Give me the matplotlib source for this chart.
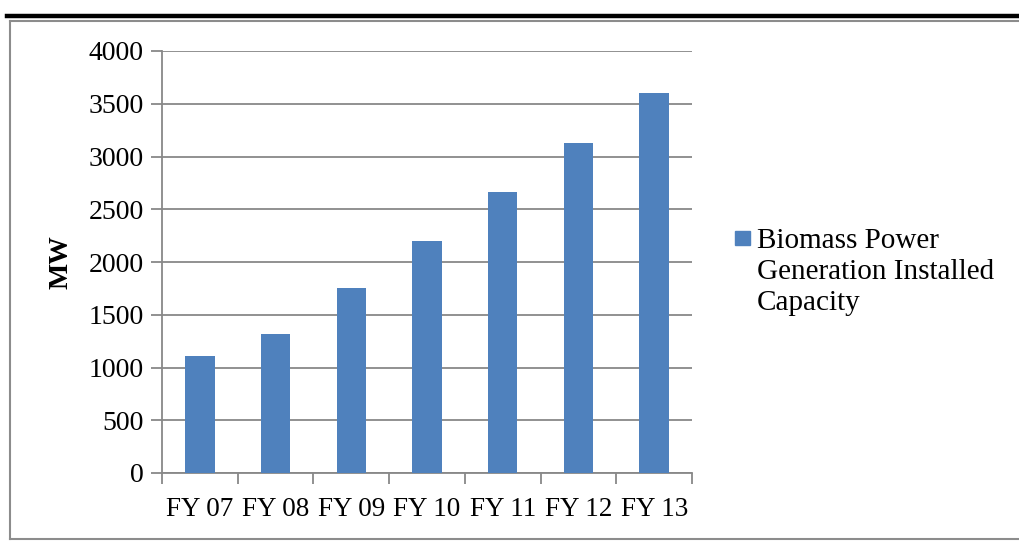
import matplotlib.pyplot as plt
from matplotlib.lines import Line2D
from matplotlib.patches import Rectangle

years = ['FY 07', 'FY 08', 'FY 09', 'FY 10', 'FY 11', 'FY 12', 'FY 13']
capacity = [1110, 1320, 1750, 2200, 2665, 3130, 3601]
yticks = [0, 500, 1000, 1500, 2000, 2500, 3000, 3500, 4000]
series_name = ['Biomass Power', 'Generation Installed', 'Capacity']

plt.rcParams['font.family'] = ['Liberation Serif', 'DejaVu Serif']
BLUE = '#4f81bd'
GREY = '#888888'

fig = plt.figure(figsize=(10.2, 5.45), dpi=100)
W, H = 1020, 545

def fx(px):
    return px / W

def fy(py):
    return 1 - py / H

# thick rule at top and grey chart frame (open on the right)
fig.add_artist(Line2D([fx(7), 1], [fy(15.5), fy(15.5)], color='black', lw=3.2))
fig.add_artist(Line2D([fx(10), 1], [fy(21), fy(21)], color='#8c8c8c', lw=1.5))
fig.add_artist(Line2D([fx(10), fx(10)], [fy(21), fy(539)], color='#8c8c8c', lw=1.5))
fig.add_artist(Line2D([fx(10), 1], [fy(539), fy(539)], color='#8c8c8c', lw=1.5))

ax = fig.add_axes([fx(162), fy(473), fx(692 - 162), (473 - 51) / H])
x = range(len(years))
ax.bar(x, capacity, width=0.39, color=BLUE, zorder=3)

ax.set_xlim(-0.5, len(years) - 0.5)
ax.set_ylim(0, 4000)
ax.set_yticks(yticks)
ax.set_xticks([i - 0.5 for i in range(len(years) + 1)])
ax.set_xticklabels([])
ax.set_xticks(list(x), minor=True)
ax.set_xticklabels(years, minor=True, fontsize=19.5)
ax.tick_params(axis='x', which='minor', length=0, pad=17)
ax.tick_params(axis='x', which='major', length=8, color=GREY, width=1.3)
ax.tick_params(axis='y', length=8, color=GREY, width=1.3, labelsize=20, pad=5)
ax.grid(axis='y', color=GREY, lw=1.3, zorder=0)
for s in ['top', 'right']:
    ax.spines[s].set_visible(False)
for s in ['left', 'bottom']:
    ax.spines[s].set_color(GREY)
    ax.spines[s].set_linewidth(1.3)

fig.text(fx(61), fy(262), 'MW', fontsize=20, fontweight='bold',
         rotation=90, ha='center', va='center')

# legend drawn by hand so the key sits on the first text line
fig.add_artist(Rectangle((fx(735), fy(245)), fx(15), 14 / H, color=BLUE))
fig.text(fx(757), fy(228), '\n'.join(series_name), fontsize=21,
         ha='left', va='top', linespacing=1.26)

plt.savefig('out.png', dpi=100)
